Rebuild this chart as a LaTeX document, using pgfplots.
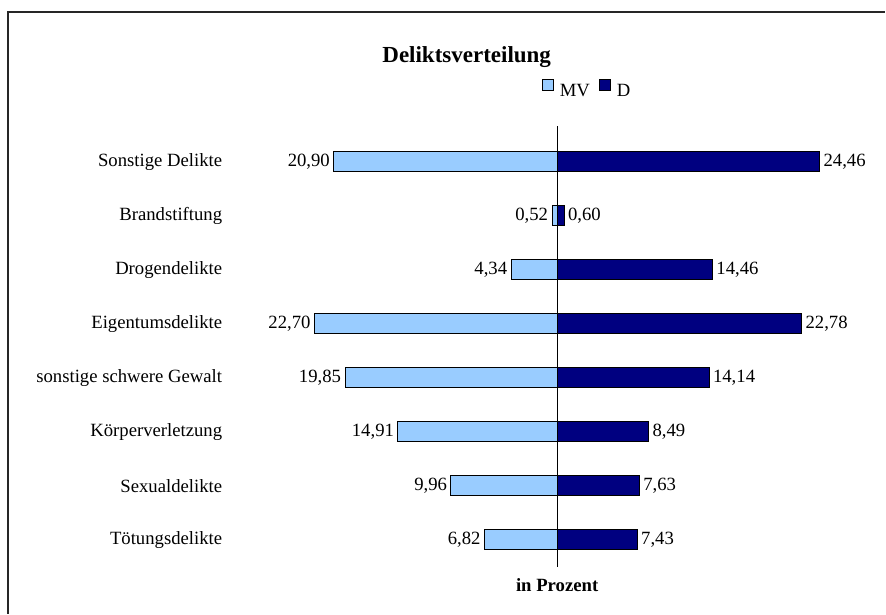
\documentclass[border=0pt]{standalone}
\usepackage{fontspec}
\setmainfont{Liberation Serif}
\usepackage{pgfplots}
\usepackage{pgfplotstable}
\pgfplotsset{compat=1.18}
\definecolor{mvblue}{RGB}{153,204,255}
\definecolor{dnavy}{RGB}{0,0,128}

% MV (left, negative) and D (right)
\pgfplotstableread{
y val lab
8 -20.90 20,90
7 -0.52 0,52
6 -4.34 4,34
5 -22.70 22,70
4 -19.85 19,85
3 -14.91 14,91
2 -9.96 9,96
1 -6.82 6,82
}\mvdata
\pgfplotstableread{
y val lab
8 24.46 24,46
7 0.60 0,60
6 14.46 14,46
5 22.78 22,78
4 14.14 14,14
3 8.49 8,49
2 7.63 7,63
1 7.43 7,43
}\ddata

\newcommand{\lblfont}{\fontsize{18.7}{22}\selectfont}

\begin{document}
\begin{tikzpicture}[x=1pt,y=1pt]
\path (0,0) rectangle (886,614);
\draw[line width=1.2pt, black!85] (8,0) -- (8,602) -- (886,602);
\node[font=\fontsize{23}{27}\selectfont\bfseries] at (467,557) {Deliktsverteilung};
\node[font=\lblfont\bfseries] at (557.5,28) {in Prozent};

\begin{axis}[
  at={(236.5pt,47pt)}, anchor=south west,
  scale only axis, width=643pt, height=441pt,
  xmin=-30, xmax=30, ymin=0.5, ymax=8.667,
  axis line style={draw=none},
  xtick=\empty,
  ytick={1,2,3,4,5,6,7,8},
  yticklabels={Tötungsdelikte, Sexualdelikte, Körperverletzung, sonstige schwere Gewalt, Eigentumsdelikte, Drogendelikte, Brandstiftung, Sonstige Delikte},
  major tick length=0pt,
  yticklabel style={font=\lblfont, inner sep=0pt, xshift=-14pt},
  clip=false,
  legend columns=2,
  legend style={at={(0.546,1.083)}, anchor=center, draw=none, fill=none,
    font=\lblfont, inner sep=0pt,
    /tikz/every odd column/.append style={column sep=4pt},
    /tikz/every even column/.append style={column sep=7pt}},
  legend image code/.code={\draw[#1, draw=black, line width=1pt] (0pt,0pt) rectangle (11pt,11pt);},
  bars/.style={xbar, bar width=20pt, bar shift=0pt, draw=black, line width=1pt,
    point meta=explicit symbolic, nodes near coords={\pgfplotspointmeta},
    every node near coord/.append style={font=\lblfont, black, inner sep=3.5pt}},
]
\addplot[bars, fill=mvblue,
  every node near coord/.append style={anchor=east}]
  table[x=val, y=y, meta=lab] {\mvdata};
\addlegendentry{MV}
\addplot[bars, fill=dnavy,
  every node near coord/.append style={anchor=west}]
  table[x=val, y=y, meta=lab] {\ddata};
\addlegendentry{D}
\addplot[sharp plot, black, line width=0.9pt, forget plot] coordinates {(0,0.5) (0,8.667)};
\end{axis}
\end{tikzpicture}
\end{document}
